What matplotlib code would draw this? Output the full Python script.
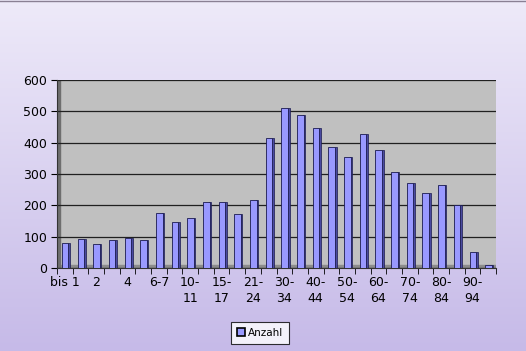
import matplotlib
matplotlib.use('Agg')
import matplotlib.pyplot as plt
import numpy as np
from matplotlib.patches import Patch

# age groups (only every other one is labelled on the axis, as in Excel)
labels = ['bis 1', '1', '2', '3', '4', '5', '6-7', '8-9', '10-\n11', '12-\n14',
          '15-\n17', '18-\n20', '21-\n24', '25-\n29', '30-\n34', '35-\n39',
          '40-\n44', '45-\n49', '50-\n54', '55-\n59', '60-\n64', '65-\n69',
          '70-\n74', '75-\n79', '80-\n84', '85-\n89', '90-\n94', '95+']
anzahl = [80, 92, 77, 88, 97, 90, 177, 148, 160, 212, 212, 173, 218, 414,
          510, 488, 447, 385, 355, 428, 378, 305, 270, 240, 266, 200, 52, 10]

fig = plt.figure(figsize=(5.26, 3.51), dpi=100)

# lavender gradient background
bg = fig.add_axes([0, 0, 1, 1], zorder=-10)
grad = np.linspace(0, 1, 256).reshape(-1, 1)
top = np.array([238, 234, 249]) / 255
bot = np.array([198, 186, 232]) / 255
img = top + (bot - top) * grad[:, :, None]
bg.imshow(img, aspect='auto', extent=[0, 1, 0, 1])
bg.plot([0, 1], [0.997, 0.997], color='#8a8094', lw=1)
bg.set_xlim(0, 1)
bg.set_ylim(0, 1)
bg.axis('off')

ax = fig.add_axes([57 / 526, (351 - 268) / 351, 439 / 526, 188 / 351])
ax.set_facecolor('#c0c0c0')
x = np.arange(len(anzahl))
ax.set_xlim(-0.5, len(anzahl) - 0.5)
ax.set_ylim(0, 600)

# gridlines
ax.yaxis.grid(True, color='#202020', lw=0.9)
ax.set_axisbelow(True)

# floor strip + left wall shade
ax.axhspan(0, 8, color='#8c8c8c', zorder=0.5)
ax.axvspan(-0.5, -0.3, color='#6e6e6e', zorder=0.5)

# bar side (depth) and front
ax.bar(x + 0.27, anzahl, width=0.12, color='#4a4aa0', edgecolor='#1a1a50', lw=0.5, zorder=2)
ax.bar(x + 0.02, anzahl, width=0.42, color='#9999ff', edgecolor='#1a1a50', lw=0.6, zorder=3)

ax.set_yticks(range(0, 601, 100))
ax.set_xticks(np.arange(-0.5, len(anzahl), 1), minor=True)
ax.set_xticks(x[::2])
ax.set_xticklabels(labels[::2], va='top', linespacing=1.3)
ax.tick_params(axis='x', which='major', length=0, pad=6, labelsize=9, colors='black')
ax.tick_params(axis='x', which='minor', length=4, direction='out')
ax.tick_params(axis='y', length=4, labelsize=9, pad=3)

for s in ['top', 'right']:
    ax.spines[s].set_visible(False)
ax.spines['left'].set_color('#333333')
ax.spines['bottom'].set_color('#333333')

# legend
h = [Patch(facecolor='#9999ff', edgecolor='black', lw=1.2)]
leg = fig.legend(h, ['Anzahl'], loc='center', bbox_to_anchor=(260 / 526, (351 - 333) / 351),
                 fontsize=7.5, frameon=True, fancybox=False, handlelength=0.8, handleheight=0.8,
                 handletextpad=0.25, borderpad=0.6, borderaxespad=0)
leg.get_frame().set_edgecolor('black')
leg.get_frame().set_linewidth(0.8)
leg.get_frame().set_facecolor('white')

fig.savefig('out.png', dpi=100)
